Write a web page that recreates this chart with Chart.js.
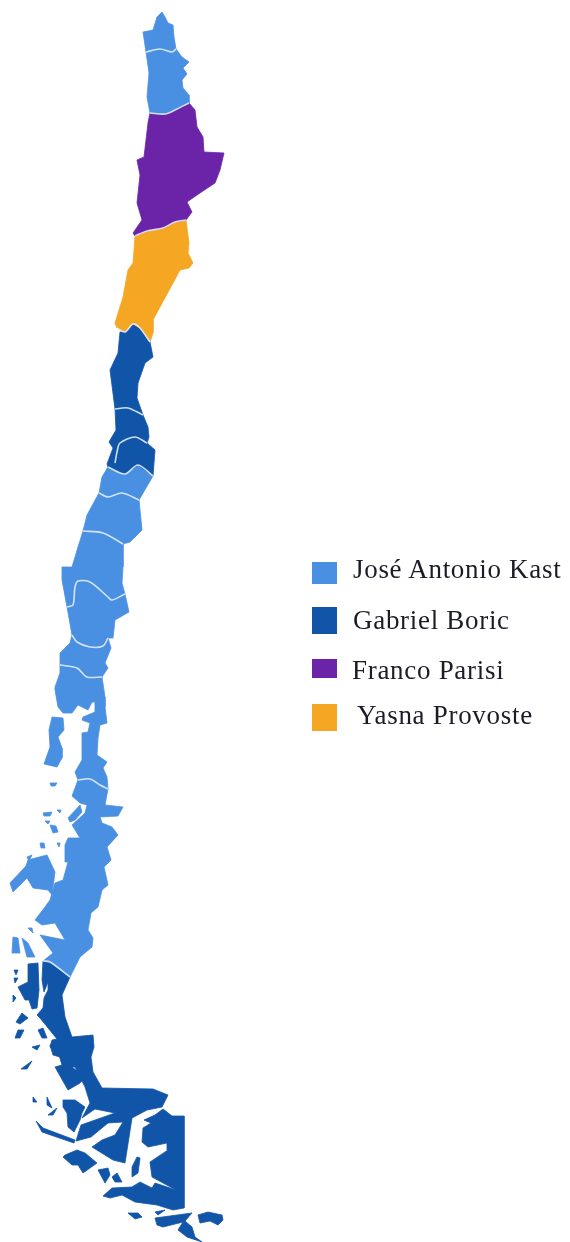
<!DOCTYPE html>
<html>
<head>
<meta charset="utf-8">
<title>Chile</title>
<script src="https://cdn.jsdelivr.net/npm/chart.js@4/dist/chart.umd.min.js"></script>
<style>
  html, body { margin: 0; background: #fff; }
  #wrap { position: relative; width: 570px; height: 1242px; overflow: hidden; }
  #map { position: absolute; left: 0; top: 0; filter: blur(0.7px); }
  .sw { position: absolute; left: 312px; width: 25px; filter: blur(0.4px); }
  .lb { position: absolute; font-family: "Liberation Serif", serif; font-size: 27px; line-height: 28px; letter-spacing: 0.7px; color: #1c1c28; white-space: nowrap; filter: blur(0.4px); }
</style>
</head>
<body>
<div id="wrap"><canvas id="map" width="570" height="1242"></canvas></div>
<script>
// candidates and their colours
var candidates = ['José Antonio Kast', 'Gabriel Boric', 'Franco Parisi', 'Yasna Provoste'];
var colors = ['#4a90e2', '#1155a8', '#6b24a8', '#f5a623'];

// region outlines, [x, y] in map units
var arica = [[162,12],[165,17],[168,23],[173,25],[174,37],[176,49],[172,52],[160,49],[146,52],[143,32],[153,30],[157,17]];
var tarapaca = [[146,52],[160,49],[172,52],[176,49],[182,57],[189,62],[183,68],[187,74],[182,80],[183,88],[189,95],[189,103],[177,109],[165,114],[150,113],[147,97],[149,73]];
var antofagasta = [[189,103],[195,110],[197,127],[203,137],[204,152],[224,153],[220,170],[215,183],[197,195],[187,202],[192,212],[186,220],[175,222],[163,228],[147,231],[135,236],[133,233],[142,220],[137,203],[140,175],[137,160],[144,157],[148,123],[150,113],[165,114],[177,109]];
var atacama = [[186,220],[189,243],[188,253],[193,263],[189,268],[180,270],[173,283],[160,307],[153,320],[153,333],[150,342],[140,328],[133,324],[125,332],[117,328],[115,323],[123,297],[128,270],[133,263],[135,236],[147,231],[163,228],[175,222]];
var coquimbo = [[133,324],[140,328],[150,342],[153,357],[145,363],[138,383],[137,398],[143,415],[128,408],[115,409],[110,370],[118,353],[120,332],[125,332]];
var valparaiso = [[115,409],[128,408],[143,415],[148,427],[149,437],[147,443],[135,437],[120,443],[117,452],[115,463],[108,467],[107,464],[113,448],[109,442],[116,430]];
var santiago = [[120,443],[135,437],[147,443],[155,450],[153,476],[138,465],[125,474],[108,467],[115,463],[117,452]];
var ohiggins = [[108,467],[125,474],[138,465],[153,476],[139,500],[122,493],[108,497],[99,493],[102,477]];
var maule = [[99,493],[108,497],[122,493],[139,500],[142,530],[130,542],[123,544],[103,533],[83,531],[87,515]];
var biobio = [[83,531],[103,533],[123,544],[123,567],[122,583],[125,594],[112,600],[108,597],[90,582],[78,581],[75,587],[73,605],[67,607],[62,580],[62,567],[72,567],[78,547]];
var araucania = [[78,581],[90,582],[108,597],[112,600],[125,594],[129,612],[115,620],[113,638],[108,638],[103,646],[90,647],[77,642],[72,635],[67,607],[73,605],[75,587]];
var losRios = [[72,635],[77,642],[90,647],[103,646],[108,638],[111,648],[105,663],[108,668],[102,677],[87,677],[77,668],[60,665],[60,653],[70,643]];
var losLagos = [[60,665],[77,668],[87,677],[102,677],[105,697],[105,707],[107,723],[100,725],[98,738],[97,755],[107,762],[103,768],[107,777],[108,789],[100,785],[90,779],[78,780],[75,772],[82,760],[82,733],[88,732],[90,723],[82,720],[83,717],[95,712],[95,702],[92,702],[88,710],[78,705],[72,713],[63,713],[58,707],[55,690],[55,687],[60,673]];
var aysen = [[78,780],[90,779],[100,785],[108,789],[105,805],[123,807],[118,816],[100,817],[102,823],[112,827],[118,835],[107,847],[111,860],[104,867],[108,885],[102,890],[98,907],[91,913],[88,930],[93,938],[92,947],[80,957],[70,977],[50,962],[43,961],[53,953],[40,935],[55,938],[65,940],[55,923],[42,925],[35,920],[45,907],[50,900],[55,883],[63,880],[68,862],[65,862],[65,845],[68,838],[80,838],[72,825],[85,813],[87,805],[80,803],[72,796]];
var magallanes = [[43,961],[50,962],[70,977],[62,995],[65,1017],[72,1037],[93,1035],[94,1047],[91,1057],[93,1072],[102,1088],[153,1089],[168,1095],[162,1107],[147,1110],[132,1118],[125,1163],[113,1160],[92,1147],[102,1140],[115,1135],[123,1122],[108,1123],[91,1137],[76,1141],[81,1125],[115,1113],[95,1109],[82,1118],[90,1103],[85,1087],[75,1067],[72,1067],[85,1077],[80,1083],[68,1090],[55,1067],[62,1065],[59,1055],[50,1047],[52,1040],[57,1039],[40,1018],[37,1015],[43,1008],[44,998],[48,990],[48,982],[44,992],[42,980]];
var magallanesEast = [[163,1109],[172,1116],[184,1116],[184,1208],[173,1210],[157,1205],[135,1202],[122,1195],[110,1198],[103,1196],[112,1188],[132,1187],[140,1182],[152,1188],[155,1183],[176,1190],[152,1177],[150,1162],[168,1150],[167,1143],[148,1147],[142,1142],[143,1128],[151,1123],[144,1120],[155,1115]];

// islands
var kastIslands = [
  [[52,717],[63,718],[64,730],[58,737],[62,748],[62,758],[57,767],[44,764],[50,747],[49,730]],
  [[10,883],[13,892],[27,878],[33,888],[48,890],[52,895],[55,872],[47,855],[28,860],[26,866]],
  [[68,818],[80,805],[82,812],[75,820],[70,822]],
  [[50,783],[57,783],[55,786],[51,786]],
  [[43,813],[52,812],[50,816],[44,816]],
  [[45,821],[50,821],[48,824]],
  [[50,825],[56,826],[58,832],[53,833]],
  [[57,810],[61,810],[60,813]],
  [[40,843],[44,843],[45,848],[41,848]],
  [[57,843],[60,843],[59,847]],
  [[27,857],[32,855],[29,861]],
  [[13,937],[18,938],[20,953],[12,953]],
  [[22,938],[28,943],[35,957],[27,957]],
  [[28,928],[32,928],[33,933]]
];
var boricIslands = [
  [[28,964],[38,963],[39,990],[37,1008],[32,1009],[29,1000],[25,1000],[18,987],[28,982]],
  [[63,1100],[75,1100],[85,1107],[82,1113],[80,1120],[74,1132],[68,1127],[67,1113],[63,1107]],
  [[65,1155],[77,1150],[85,1153],[97,1163],[83,1173],[78,1165],[72,1165],[63,1157]],
  [[36,1121],[43,1128],[75,1140],[74,1143],[42,1132]],
  [[98,1170],[108,1168],[110,1175],[105,1183]],
  [[112,1177],[117,1173],[122,1182],[115,1182]],
  [[128,1213],[138,1213],[142,1217],[135,1219]],
  [[155,1212],[165,1210],[158,1215]],
  [[155,1218],[192,1213],[185,1221],[192,1227],[195,1237],[202,1242],[187,1237],[178,1230],[183,1222],[163,1227],[157,1225]],
  [[198,1215],[208,1212],[222,1215],[223,1220],[218,1225],[210,1221],[200,1223]],
  [[16,1022],[22,1013],[28,1018],[20,1024]],
  [[15,1038],[18,1030],[24,1030],[20,1038]],
  [[38,1030],[43,1028],[47,1038],[42,1038]],
  [[32,1047],[40,1045],[37,1050]],
  [[50,1045],[58,1045],[60,1057],[53,1055]],
  [[21,1069],[32,1061],[27,1069]],
  [[132,1167],[137,1157],[140,1158],[138,1173],[132,1177]],
  [[33,1097],[37,1102],[33,1102]],
  [[47,1097],[52,1108],[47,1105]],
  [[48,1115],[57,1108],[53,1115]],
  [[13,995],[16,998],[13,1002]],
  [[14,970],[18,970],[16,975]],
  [[14,978],[18,978],[15,983]]
];

// pale lines between neighbouring regions
var borders = [
  [[146,52],[160,49],[172,52],[176,49]],
  [[150,113],[165,114],[177,109],[189,103]],
  [[135,236],[147,231],[163,228],[175,222],[186,220]],
  [[117,328],[125,332],[133,324],[140,328],[150,342]],
  [[115,409],[128,408],[143,415]],
  [[115,463],[117,452],[120,443],[135,437],[147,443]],
  [[108,467],[125,474],[138,465],[153,476]],
  [[99,493],[108,497],[122,493],[139,500]],
  [[83,531],[103,533],[123,544]],
  [[67,607],[73,605],[75,587],[78,581],[90,582],[108,597],[112,600],[125,594]],
  [[72,635],[77,642],[90,647],[103,646],[108,638]],
  [[60,665],[77,668],[87,677],[102,677]],
  [[78,780],[90,779],[100,785],[108,789]],
  [[43,961],[50,962],[70,977]]
];

// winner of each region, index into candidates
var regions = [arica, tarapaca, antofagasta, atacama, coquimbo, valparaiso, santiago, ohiggins, maule, biobio, araucania, losRios, losLagos, aysen, magallanes, magallanesEast];
var winners = [0, 0, 2, 3, 1, 1, 1, 0, 0, 0, 0, 0, 0, 0, 1, 1];

function toPoints(line) {
  return line.map(function(p) {
    return {x: p[0], y: p[1]};
  });
}

function toDataset(outline, color) {
  return {
    data: toPoints(outline.concat([outline[0]])),
    showLine: true,
    fill: 'shape',
    backgroundColor: color,
    borderColor: color,
    borderWidth: 0.8,
    tension: 0,
    pointRadius: 0
  };
}

// first dataset is drawn on top, so the border lines go in first
var datasets = borders.map(function(b) {
  return {
    data: toPoints(b),
    showLine: true,
    fill: false,
    borderColor: 'rgba(225,236,250,0.9)',
    borderWidth: 1.6,
    tension: 0.3,
    pointRadius: 0
  };
});
regions.forEach(function(r, i) { datasets.push(toDataset(r, colors[winners[i]])); });
kastIslands.forEach(function(r) { datasets.push(toDataset(r, colors[0])); });
boricIslands.forEach(function(r) { datasets.push(toDataset(r, colors[1])); });

new Chart(document.getElementById('map'), {
  type: 'scatter',
  data: {datasets: datasets},
  options: {
    responsive: false,
    animation: false,
    layout: {padding: 0},
    plugins: {legend: {display: false}, tooltip: {enabled: false}},
    scales: {
      x: {type: 'linear', display: false, min: 0, max: 570},
      y: {type: 'linear', display: false, min: 0, max: 1242, reverse: true}
    }
  }
});

// legend next to the map
var swatchTop = [562, 607, 659, 704];
var swatchHeight = [22, 27, 19, 27];
var labelLeft = [353, 353, 352, 357];
var labelTop = [555, 606, 656, 701];
var wrap = document.getElementById('wrap');
candidates.forEach(function(name, i) {
  var sw = document.createElement('div');
  sw.className = 'sw';
  sw.style.top = swatchTop[i] + 'px';
  sw.style.height = swatchHeight[i] + 'px';
  sw.style.background = colors[i];
  wrap.appendChild(sw);
  var lb = document.createElement('div');
  lb.className = 'lb';
  lb.style.left = labelLeft[i] + 'px';
  lb.style.top = labelTop[i] + 'px';
  lb.textContent = name;
  wrap.appendChild(lb);
});
</script>
</body>
</html>
